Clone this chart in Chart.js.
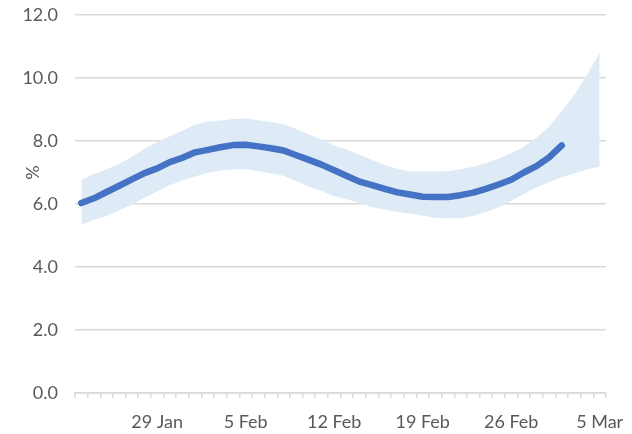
<!DOCTYPE html>
<html>
<head>
<meta charset="utf-8">
<script src="https://cdn.jsdelivr.net/npm/chart.js@4.4.1/dist/chart.umd.min.js"></script>
<style>
  html, body { margin: 0; padding: 0; background: #fff; }
  #wrap { width: 632px; height: 434px; }
</style>
</head>
<body>
<div id="wrap"><canvas id="chart"></canvas></div>
<script>
// one category per day, 23 Jan .. 5 Mar
const days = [
    '23 Jan', '24 Jan', '25 Jan', '26 Jan', '27 Jan', '28 Jan', '29 Jan', '30 Jan', '31 Jan',
    '1 Feb', '2 Feb', '3 Feb', '4 Feb', '5 Feb', '6 Feb', '7 Feb', '8 Feb', '9 Feb', '10 Feb',
    '11 Feb', '12 Feb', '13 Feb', '14 Feb', '15 Feb', '16 Feb', '17 Feb', '18 Feb', '19 Feb',
    '20 Feb', '21 Feb', '22 Feb', '23 Feb', '24 Feb', '25 Feb', '26 Feb', '27 Feb', '28 Feb',
    '1 Mar', '2 Mar', '3 Mar', '4 Mar', '5 Mar'
];
const shownLabels = ['29 Jan', '5 Feb', '12 Feb', '19 Feb', '26 Feb', '5 Mar'];

// central estimate (%), ends 2 Mar
const estimate = [
    6.03, 6.18, 6.38, 6.58, 6.78, 6.98, 7.13, 7.33, 7.47, 7.64, 7.72, 7.80, 7.87, 7.88,
    7.83, 7.77, 7.70, 7.55, 7.40, 7.25, 7.07, 6.89, 6.71, 6.60, 6.48, 6.37, 6.30, 6.23,
    6.22, 6.22, 6.28, 6.36, 6.48, 6.62, 6.77, 7.00, 7.20, 7.48, 7.86
];

// uncertainty band
const upper = [
    6.76, 6.95, 7.10, 7.28, 7.50, 7.76, 7.97, 8.15, 8.33, 8.52, 8.62, 8.65, 8.70, 8.72,
    8.66, 8.60, 8.53, 8.38, 8.21, 8.05, 7.86, 7.72, 7.57, 7.40, 7.24, 7.12, 7.03, 7.03,
    7.03, 7.04, 7.10, 7.18, 7.30, 7.44, 7.62, 7.82, 8.10, 8.46, 8.95, 9.47, 10.10, 10.80
];
const lower = [
    5.33, 5.50, 5.62, 5.80, 5.98, 6.20, 6.40, 6.60, 6.75, 6.87, 6.99, 7.06, 7.10, 7.10,
    7.04, 6.97, 6.90, 6.72, 6.55, 6.42, 6.25, 6.15, 6.03, 5.90, 5.82, 5.75, 5.70, 5.63,
    5.56, 5.55, 5.55, 5.62, 5.75, 5.90, 6.10, 6.32, 6.53, 6.70, 6.85, 6.97, 7.10, 7.18
];

const axisTitle = '%';
const textColor = '#595959';
const gridColor = '#d9d9d9';
const font = { family: 'Lato', size: 18 };

// draws the "%" title beside the y axis, level with 7.0
const yTitlePlugin = {
    id: 'yTitle',
    afterDraw(chart) {
        const ctx = chart.ctx;
        const y = chart.scales.y.getPixelForValue(7.0);
        ctx.save();
        ctx.translate(33, y);
        ctx.rotate(-Math.PI / 2);
        ctx.font = '18px Lato';
        ctx.fillStyle = textColor;
        ctx.textAlign = 'center';
        ctx.textBaseline = 'middle';
        ctx.fillText(axisTitle, 0, 0);
        ctx.restore();
    }
};

new Chart(document.getElementById('chart'), {
    type: 'line',
    data: {
        labels: days,
        datasets: [
            {
                label: 'estimate',
                data: estimate,
                borderColor: '#4472c4',
                borderWidth: 6.5,
                borderCapStyle: 'round',
                borderJoinStyle: 'round',
                pointRadius: 0,
                fill: false,
                order: 0
            },
            {
                label: 'lower',
                data: lower,
                borderWidth: 0,
                pointRadius: 0,
                fill: false,
                order: 2
            },
            {
                label: 'upper',
                data: upper,
                borderWidth: 0,
                pointRadius: 0,
                backgroundColor: '#deebf7',
                fill: '-1',
                order: 1
            }
        ]
    },
    options: {
        responsive: true,
        maintainAspectRatio: false,
        animation: false,
        layout: { padding: { top: 15, right: 26, left: 0, bottom: 0 } },
        plugins: {
            legend: { display: false },
            tooltip: { enabled: false }
        },
        scales: {
            x: {
                offset: true,
                grid: {
                    offset: true,
                    drawOnChartArea: false,
                    drawTicks: true,
                    tickLength: 5,
                    color: gridColor,
                    lineWidth: 1.5
                },
                border: { color: gridColor, width: 1.5 },
                ticks: {
                    autoSkip: false,
                    maxRotation: 0,
                    minRotation: 0,
                    padding: 13,
                    color: textColor,
                    font: font,
                    callback: function (value, index) {
                        const lab = days[index];
                        return shownLabels.includes(lab) ? lab : '';
                    }
                },
                afterFit: function (scale) {
                    scale.height = 41;
                    scale.paddingLeft = 0;
                    scale.paddingRight = 0;
                }
            },
            y: {
                min: 0,
                max: 12,
                grid: {
                    color: gridColor,
                    lineWidth: 1.5,
                    drawTicks: false
                },
                border: { display: false },
                ticks: {
                    stepSize: 2,
                    padding: 17,
                    color: textColor,
                    font: font,
                    callback: function (value) { return value.toFixed(1); }
                },
                afterFit: function (scale) {
                    scale.width = 75;
                    scale.paddingTop = 0;
                    scale.paddingBottom = 0;
                }
            }
        }
    },
    plugins: [yTitlePlugin]
});
</script>
</body>
</html>
